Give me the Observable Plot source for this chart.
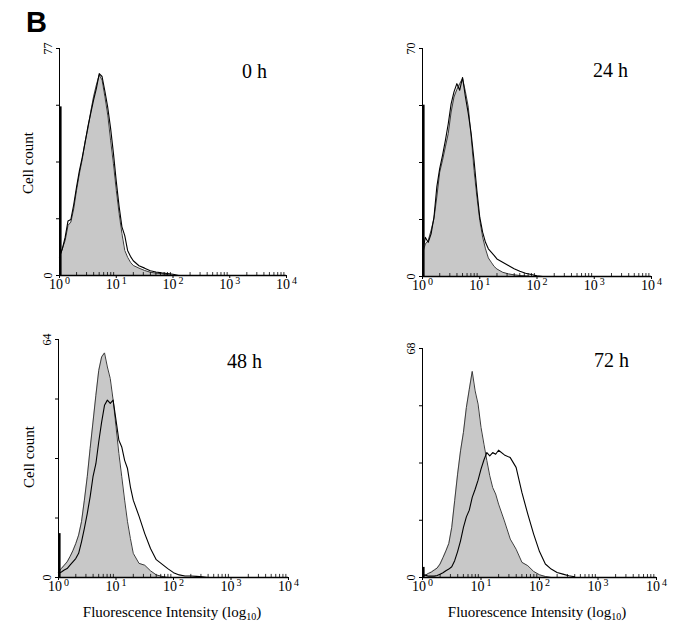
<!DOCTYPE html>
<html><head><meta charset="utf-8">
<script src="https://cdn.jsdelivr.net/npm/d3@7"></script>
<script src="https://cdn.jsdelivr.net/npm/@observablehq/plot@0.6"></script>
<style>
body{margin:0;background:#fff;}
#fig{position:relative;width:682px;height:628px;overflow:hidden;font-family:"Liberation Serif","Times New Roman",serif;color:#000;background:#fff;}
#fig svg{position:absolute;}
.lbl{position:absolute;white-space:nowrap;line-height:1;}
</style></head><body><div id="fig"></div>
<script>
// ---------- data ----------
// log10 fluorescence channel positions
const logGrid = [0,0.05,0.1,0.15,0.2,0.25,0.3,0.35,0.4,0.45,0.5,0.55,0.6,0.65,0.7,0.75,0.8,0.85,0.9,0.95,1.0,1.05,1.1,1.15,1.2,1.25,1.3,1.4,1.5,1.6,1.7,1.8,1.9,2.0,2.1,2.2,2.3,2.4,2.5,2.6];
const panelTitles = ["0 h","24 h","48 h","72 h"];
const yMax = [77,70,64,68];
const firstChannel = [57.2,52.6,11.8,3];
// filled (control) histograms
const control0h  = [6.2,9.1,11.9,17,18.1,22.6,28.9,34.5,39.3,45.3,49.8,55.5,60.6,64.6,68,66.3,60.6,54.4,45.9,37.9,28.9,21,14.2,8.5,6.2,4.5,3.4,2.5,1.7,1.1,0.8,0.6,0.3,0,0,0,0,0,0,0];
const control24h = [7,10,11,14.1,17.7,24.4,32,35.7,39.8,43.9,50.5,55.1,57.4,59.2,60.8,56.7,52,42.8,32.6,24.4,17.2,12.1,8.5,5.7,4.4,3.1,2.3,1.3,0.8,0.5,0.3,0.2,0,0,0,0,0,0,0,0];
const control48h = [1.5,2.4,3.3,4.2,5.6,7.2,9.1,11.4,15,20.8,27.1,34.7,41.8,49,55.7,59.3,60.4,56.6,53.5,47.7,40.5,33.3,27.1,20.8,15,10.5,6.5,3.8,3.3,1.8,0.7,0.3,0,0,0,0,0,0,0,0];
const control72h = [0.4,0.7,1.2,1.6,2.2,2.8,4,5.9,7.9,10.1,14.9,22.8,30.7,37.6,43.1,50.5,55.9,61.2,55.4,51.5,44.6,39.6,34.7,30.2,26.7,24.8,21.8,16.8,11.4,8.4,4.5,3.5,1.8,0.8,0.3,0,0,0,0,0];
// open (treated) histograms
const treated0h  = [6.5,9,13,18.5,19,24,30,35.5,40,45,50.5,55,59.5,63.5,68.5,67.5,62.5,57,50,41.5,32,23.5,16.5,13.5,8.5,6.5,5,3.3,2.5,1.6,1.2,0.9,0.7,0.4,0,0,0,0,0,0];
const treated24h = [7.5,12,10.5,13.1,18.2,27.5,33.1,37.2,41.8,46.9,53,56.7,59.2,57.2,61.1,55.1,50,43.9,35.7,26.4,18.2,13.6,10.5,8.5,7.5,6.5,5.4,4.4,3.4,2.4,1.6,1,0.6,0.2,0,0,0,0,0,0];
const treated48h = [1.1,1.5,2,2.4,3.3,4.2,5.1,6.5,9.6,13.2,17.2,21.7,27.1,30.6,36.5,41.8,46.3,47.7,46.8,47.7,42.3,36.9,35.1,31.5,29.3,24.4,20.8,16.5,11.8,7.8,4.8,3.6,2.4,1.3,0.7,0.4,0.4,0.3,0.2,0];
const treated72h = [0.8,0.7,0.4,0.4,0.4,0.6,1,1.4,2,2.5,3.2,5,7.7,10.9,14.9,18,20,23.8,26.2,28.9,32.2,34.9,37.1,36.1,37.1,36.6,37.8,36.4,35.6,32.7,25.2,18.8,12.9,7.7,4,2.5,1.5,1,0.5,0.2];
const xTicks = [1,10,100,1000,10000];
const xTickExponents = ["0","1","2","3","4"];

const controls = [control0h, control24h, control48h, control72h];
const treated = [treated0h, treated24h, treated48h, treated72h];

// ---------- layout ----------
const frames = [[59,48,227,227],[422,48,229,228],[58,339,230,238],[422,348,234,229]];
const titlePos = [[242,78],[593,77],[227,368],[594,366.5]];
const fig = document.getElementById("fig");
const minor = [];
for (const k of [1,10,100,1000]) for (let m = 2; m < 10; m++) minor.push(k*m);
const serif = "'Liberation Serif','Times New Roman',serif";

frames.forEach((fr, i) => {
  const [fx, fy, fw, fh] = fr;
  const ml = 24, mr = 24, mt = 12, mb = 26;
  const max = yMax[i];
  const g = logGrid.map((e, k) => ({x: Math.pow(10, e), y: controls[i][k]}));
  const b = logGrid.map((e, k) => ({x: Math.pow(10, e), y: treated[i][k]}));
  const svg = Plot.plot({
    width: fw + ml + mr, height: fh + mt + mb,
    marginLeft: ml, marginRight: mr, marginTop: mt, marginBottom: mb,
    style: {fontFamily: serif, background: "transparent", overflow: "visible", color: "#000"},
    x: {type: "log", domain: [1, 1e4], label: null},
    y: {domain: [0, max], label: null},
    marks: [
      Plot.areaY(g, {x: "x", y: "y", fill: "#c8c8c8"}),
      Plot.lineY(g, {x: "x", y: "y", stroke: "#3c3c3c", strokeWidth: 1}),
      Plot.lineY(b, {x: "x", y: "y", stroke: "#000", strokeWidth: 1.1}),
      Plot.ruleX([{x: 1, v: firstChannel[i]}], {x: "x", y1: 0, y2: "v", stroke: "#000", strokeWidth: 2.2, dx: 1}),
      Plot.ruleX([1], {stroke: "#000", strokeWidth: 1}),
      Plot.ruleY([0], {stroke: "#000", strokeWidth: 1.4}),
      Plot.ruleX(minor, {y1: 0, y2: max * 0.013, stroke: "#000", strokeWidth: 0.8}),
      Plot.axisX({ticks: xTicks, tickFormat: d => "10" + xTickExponents[xTicks.indexOf(d)], tickSize: 3, tickPadding: 1, fontSize: 14, fontFamily: serif, label: null}),
      Plot.axisY({ticks: [0, max/4, max/2, 3*max/4, max], tickFormat: d => (d === 0 || d === max) ? String(d) : "", tickSize: 3, tickPadding: 5, tickRotate: -90, fontSize: 12, fontFamily: serif, label: null})
    ]
  });
  // render the exponent of each x tick label as a superscript
  d3.select(svg).selectAll("g[aria-label='x-axis tick label'] text").each(function() {
    const s = this.textContent;
    const base = s.slice(0, 2), exp = s.slice(2);
    const t = d3.select(this);
    t.text(null);
    t.append("tspan").text(base);
    t.append("tspan").attr("dx", 2).attr("dy", -5).attr("font-size", 10).text(exp);
  });
  svg.style.left = (fx - ml) + "px";
  svg.style.top = (fy - mt) + "px";
  fig.appendChild(svg);

  const t = document.createElement("div");
  t.className = "lbl";
  t.style.fontSize = "20px";
  t.style.left = titlePos[i][0] + "px";
  t.style.top = (titlePos[i][1] - 0.8375 * 20) + "px";
  t.textContent = panelTitles[i];
  fig.appendChild(t);
});

function addLabel(html, css) {
  const d = document.createElement("div");
  d.className = "lbl";
  d.innerHTML = html;
  Object.assign(d.style, css);
  fig.appendChild(d);
}
addLabel("B", {left: "26px", top: "8px", fontFamily: "'Liberation Sans', Arial, sans-serif", fontWeight: "bold", fontSize: "29px"});
addLabel("Cell count", {left: "28px", top: "163px", fontSize: "15px", transform: "translate(-50%,-50%) rotate(-90deg)"});
addLabel("Cell count", {left: "29px", top: "457px", fontSize: "15px", transform: "translate(-50%,-50%) rotate(-90deg)"});
const xl = "Fluorescence Intensity (log<span style=\"font-size:10px;position:relative;top:3px\">10</span>)";
addLabel(xl, {left: "172px", top: "605px", fontSize: "15px", transform: "translateX(-50%)"});
addLabel(xl, {left: "537px", top: "605px", fontSize: "15px", transform: "translateX(-50%)"});
</script>
</body></html>
